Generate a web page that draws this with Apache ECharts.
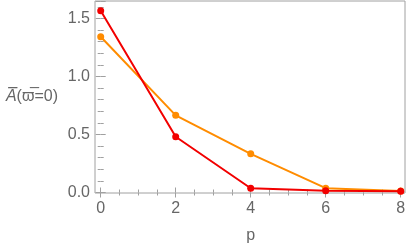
<!DOCTYPE html>
<html><head><meta charset="utf-8">
<script src="https://cdn.jsdelivr.net/npm/echarts@6/dist/echarts.min.js"></script>
<style>html,body{margin:0;padding:0;background:#fff}#c{width:409px;height:247px}</style>
</head><body><div id="c"></div>
<script>
const pValues = [0, 2, 4, 6, 8];
const redSeries = [1.566, 0.48, 0.037, 0.015, 0.01];
const orangeSeries = [1.342, 0.665, 0.333, 0.037, 0.012];
const xTicks = [0, 2, 4, 6, 8];
const yTicks = [0, 0.5, 1.0, 1.5];

const chart = echarts.init(document.getElementById('c'), null, {renderer: 'canvas'});
const gray = '#a0a0a0';
const labelColor = '#666';
const font = 'Liberation Sans, Arial, sans-serif';
const tickStyle = {show: true, inside: true, length: 5, lineStyle: {color: gray, width: 1}};
const minorStyle = {show: true, splitNumber: 4, length: 3, lineStyle: {color: gray, width: 1}};
const ax = {
  type: 'value', gridIndex: 0, show: true,
  axisLine: {show: false}, splitLine: {show: false}
};
chart.setOption({
  animation: false,
  grid: [
    {left: 95, right: 4, top: 1, bottom: 54, show: true, borderColor: gray, borderWidth: 1, backgroundColor: 'transparent', outerBoundsMode: 'none', containLabel: false},
    {left: 100.7, right: 8.3, top: 1, bottom: 54.5, outerBoundsMode: 'none', containLabel: false}
  ],
  xAxis: [
    {type: 'value', gridIndex: 0, show: false, min: 0, max: 1},
    Object.assign({}, ax, {
      gridIndex: 1, position: 'bottom', min: 0, max: 8, interval: 2,
      axisTick: tickStyle, minorTick: minorStyle,
      axisLabel: {color: labelColor, fontSize: 16, fontFamily: font, margin: 8,
        formatter: v => xTicks.includes(v) ? String(v) : ''},
      name: 'p', nameLocation: 'middle', nameGap: 35,
      nameTextStyle: {color: labelColor, fontSize: 16, fontFamily: font}
    }),
    Object.assign({}, ax, {
      gridIndex: 1, position: 'top', min: 0, max: 8, interval: 2,
      axisTick: tickStyle, minorTick: minorStyle, axisLabel: {show: false}
    })
  ],
  yAxis: [
    {type: 'value', gridIndex: 0, show: false, min: 0, max: 1},
    Object.assign({}, ax, {
      gridIndex: 1, position: 'left', offset: 5.7, min: 0, max: 1.65, interval: 0.5,
      axisTick: tickStyle, minorTick: Object.assign({}, minorStyle, {splitNumber: 5}),
      axisLabel: {color: labelColor, fontSize: 16, fontFamily: font, margin: 5, showMaxLabel: false,
        formatter: v => yTicks.some(t => Math.abs(t - v) < 1e-9) ? v.toFixed(1) : ''},
      name: '{i|A\u0305}(\u03D6\u0305=0)', nameLocation: 'middle', nameRotate: 0, nameGap: 37,
      nameTextStyle: {color: labelColor, fontSize: 16, fontFamily: font, align: 'right',
        rich: {i: {fontStyle: 'italic', fontSize: 16, fontFamily: font, color: labelColor}}}
    }),
    Object.assign({}, ax, {
      gridIndex: 1, position: 'right', offset: 4.3, min: 0, max: 1.65, interval: 0.5,
      axisTick: tickStyle, minorTick: Object.assign({}, minorStyle, {splitNumber: 5}), axisLabel: {show: false}
    })
  ],
  series: [
    {type: 'line', xAxisIndex: 1, yAxisIndex: 1, data: pValues.map((p, i) => [p, orangeSeries[i]]),
     color: '#ff8c00', lineStyle: {width: 2}, symbol: 'circle', symbolSize: 7, z: 2},
    {type: 'line', xAxisIndex: 1, yAxisIndex: 1, data: pValues.map((p, i) => [p, redSeries[i]]),
     color: '#f20000', lineStyle: {width: 2}, symbol: 'circle', symbolSize: 7, z: 3}
  ]
});
</script></body></html>
